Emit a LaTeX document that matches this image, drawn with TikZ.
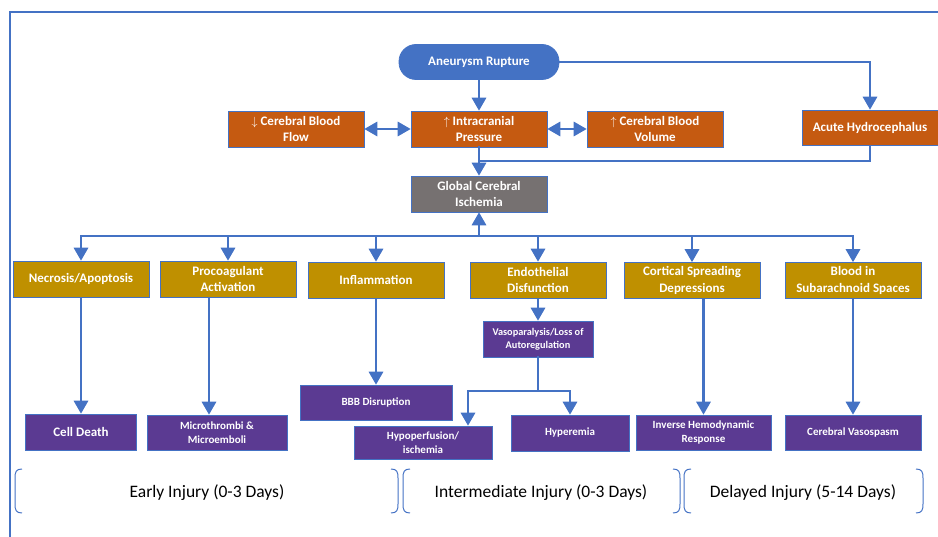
\documentclass[tikz,border=0pt]{standalone}
\usepackage{fontspec}
\setmainfont{Carlito}
\usepackage{tikz}
\usetikzlibrary{calc}
\usetikzlibrary{arrows}
\definecolor{rupblue}{HTML}{4472C4}
\definecolor{icporange}{HTML}{C55A11}
\definecolor{gcigray}{HTML}{767171}
\definecolor{injgold}{HTML}{BF9000}
\definecolor{effpurple}{HTML}{5B3A92}
\tikzset{%
  myedge/.style={->, >=triangle 60, line width=2.6pt, draw=rupblue},
  mybidir/.style={<->, >=triangle 60, line width=2.6pt, draw=rupblue},
  myline/.style={line width=2.6pt, draw=rupblue, line cap=rect},
  mynode/.style={rectangle, draw=rupblue, line width=0.8pt, text=white, align=center, inner sep=0pt, minimum width=136pt, minimum height=36pt, font=\fontsize{13}{16.5}\selectfont\bfseries},
  mysmall/.style={mynode, fill=effpurple, font=\fontsize{11}{13.5}\selectfont\bfseries},
  mylabel/.style={font=\fontsize{17.5}{20}\selectfont},
  mybrace/.style={draw=rupblue, line width=1pt}
}

\begin{document}
\begin{tikzpicture}[x=1pt, y=-1pt]
  \tikzset{myedge/.style={->, >=triangle 60, line width=2.6pt, draw=rupblue}};

\useasboundingbox (0,0) rectangle (938,537);
\draw [draw=rupblue, line width=1.5pt] (10,537) -- (10,12) -- (938,12);

\node (rupture) [mynode, fill=rupblue, rounded corners=17pt, minimum width=160pt, minimum height=35pt] at (479,62) {Aneurysm Rupture};
\node (cbf) [mynode, fill=icporange] at (296,129) {$\downarrow$ Cerebral Blood\\Flow};
\node (icp) [mynode, fill=icporange] at (479,129) {$\uparrow$ Intracranial\\Pressure};
\node (cbv) [mynode, fill=icporange] at (655,129) {$\uparrow$ Cerebral Blood\\Volume};
\node (hydro) [mynode, fill=icporange, minimum height=35pt] at (870,127.5) {Acute Hydrocephalus};
\node (gci) [mynode, fill=gcigray] at (479,194) {Global Cerebral\\Ischemia};

\node (necro) [mynode, fill=injgold] at (81,279) {Necrosis/Apoptosis};
\node (procoag) [mynode, fill=injgold] at (228,279) {Procoagulant\\Activation};
\node (inflam) [mynode, fill=injgold] at (376,280) {Inflammation};
\node (endo) [mynode, fill=injgold] at (538,280) {Endothelial\\Disfunction};
\node (csd) [mynode, fill=injgold] at (692,280.5) {Cortical Spreading\\Depressions};
\node (blood) [mynode, fill=injgold] at (853,280.5) {Blood in\\Subarachnoid Spaces};

\node (death) [mysmall, font=\fontsize{13}{16.5}\selectfont\bfseries, minimum width=111pt] at (81,432) {Cell Death};
\node (micro) [mysmall, minimum width=140pt, minimum height=35pt] at (217,432.5) {Microthrombi \&\\Microemboli};
\node (bbb) [mysmall, minimum width=152pt, minimum height=35pt] at (376,402.5) {BBB Disruption};
\node (hypo) [mysmall, minimum width=138pt, minimum height=33pt] at (423,442.5) {Hypoperfusion/\\ischemia};
\node (vaso) [mysmall, font=\fontsize{10.3}{13}\selectfont\bfseries, minimum width=110pt] at (538,339) {Vasoparalysis/Loss of\\Autoregulation};
\node (hyper) [mysmall, minimum width=118pt] at (570,433) {Hyperemia};
\node (inverse) [mysmall, minimum width=135pt, minimum height=35pt] at (703.5,432.5) {Inverse Hemodynamic\\Response};
\node (spasm) [mysmall, minimum height=35pt] at (853,432.5) {Cerebral Vasospasm};

\node (early) [mylabel] at (207,493) {Early Injury (0-3 Days)};
\node (inter) [mylabel] at (541,493) {Intermediate Injury (0-3 Days)};
\node (late) [mylabel] at (803,493) {Delayed Injury (5-14 Days)};

% top part
\draw [myedge] (rupture) -- (icp);
\draw [myedge] (rupture) -| (hydro);
\draw [mybidir] (cbf) -- (icp);
\draw [mybidir] (icp) -- (cbv);
\coordinate (join) at (479,161);
\draw [myline] (icp) -- (join);
\draw [myedge] (hydro) |- (join) -- (gci);

\coordinate (bus) at (479,236);
\draw [myedge] (bus) -- (gci);
\draw [myline] (necro |- bus) -- (blood |- bus);
\foreach \n in {necro,procoag,inflam,endo,csd,blood} {
  \draw [myedge] (\n |- bus) -- (\n);
}

\draw [myedge] (necro) -- (death);
\coordinate (pcx) at (209,0);
\draw [myedge] (procoag.south -| pcx) -- (micro.north -| pcx);
\draw [myedge] (inflam) -- (bbb);
\draw [myedge] (endo) -- (vaso);
\coordinate (split) at (538,391);
\coordinate (hpx) at (468,391);
\draw [myline] (vaso) -- (split);
\draw [myedge] (split) -| (hyper);
\draw [myedge] (split) -- (hpx) -- (hypo.north -| hpx);
\draw [myedge] (csd.south -| inverse) -- (inverse);
\draw [myedge] (blood) -- (spasm);

% brackets
\foreach \x/\d in {15/1, 403/1, 684/1, 398/-1, 680/-1, 923/-1} {
  \draw [mybrace] (\x+7*\d,469) .. controls (\x+1*\d,469) and (\x,472) .. (\x,478) -- (\x,504) .. controls (\x,510) and (\x+1*\d,513) .. (\x+7*\d,513);
}
\end{tikzpicture}
\end{document}
